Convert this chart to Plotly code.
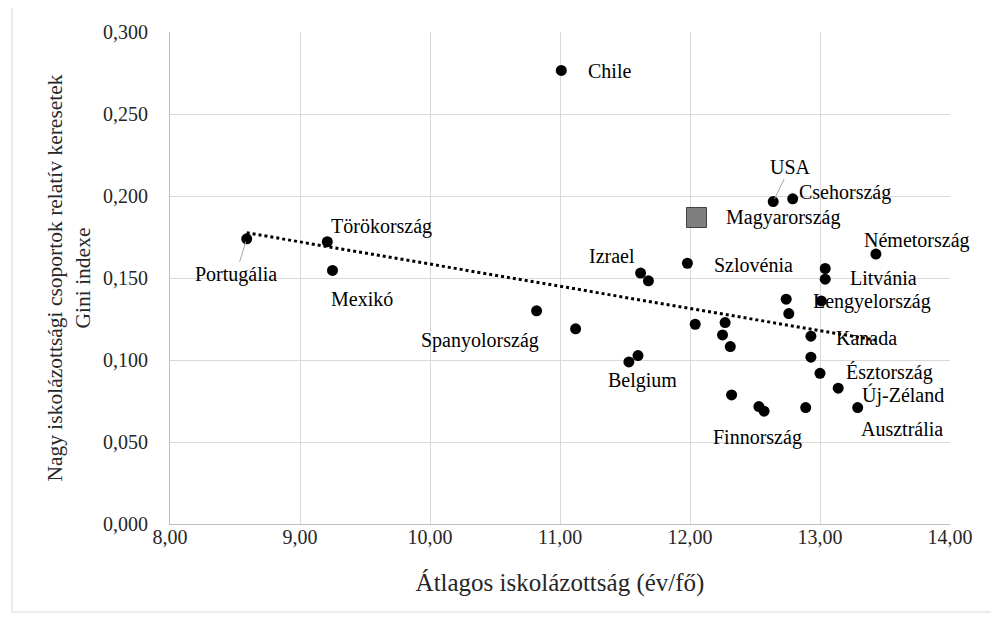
import numpy as np
import plotly.graph_objects as go

# Average schooling (years/person) and Gini index of relative earnings
SCHOOLING = [
    11.01, 8.59, 9.21, 9.25, 10.82, 11.12, 11.62, 11.68, 11.53, 11.60,
    11.98, 12.04, 12.64, 12.79, 13.43, 13.04, 13.04, 12.74, 12.76, 13.01,
    12.27, 12.25, 12.31, 12.93, 12.93, 13.00, 13.14, 13.29, 12.32, 12.53,
    12.57, 12.89,
]
GINI = [
    0.2766, 0.1739, 0.1721, 0.1546, 0.1300, 0.1190, 0.1530, 0.1483, 0.0988, 0.1027,
    0.1590, 0.1218, 0.1966, 0.1983, 0.1646, 0.1558, 0.1493, 0.1371, 0.1283, 0.1360,
    0.1228, 0.1153, 0.1082, 0.1145, 0.1017, 0.0919, 0.0828, 0.0710, 0.0787, 0.0716,
    0.0688, 0.0710,
]
LABELS = [
    "Chile", "Portugália", "Törökország", "Mexikó", "Spanyolország", "", "Izrael", "", "Belgium", "",
    "Szlovénia", "", "USA", "Csehország", "Németország", "", "Litvánia", "", "", "Lengyelország",
    "", "", "", "Kanada", "", "Észtország", "Új-Zéland", "Ausztrália", "", "",
    "Finnország", "",
]

HUNGARY_X = [12.05]
HUNGARY_Y = [0.1869]
HUNGARY_LABEL = "Magyarország"

# label offsets in pixels (dx right, dy down) from the marker
LABEL_OFFSETS = {
    "Chile": (48, 1), "Portugália": (-11, 36), "Törökország": (54, -15),
    "Mexikó": (29, 29), "Spanyolország": (-57, 30), "Izrael": (-29, -17),
    "Belgium": (14, 19), "Szlovénia": (66, 2), "USA": (17, -35),
    "Csehország": (52, -6), "Németország": (41, -14), "Litvánia": (58, -1),
    "Lengyelország": (51, 1), "Kanada": (56, 2), "Észtország": (69, -1),
    "Új-Zéland": (65, 7), "Ausztrália": (44, 21), "Finnország": (-7, 26),
}
LEADER_LABELS = {"USA", "Portugália"}

FONT = "Liberation Serif"
TEXT = "#262626"
LABEL_SIZE = 20

fig = go.Figure()

slope, intercept = np.polyfit(SCHOOLING, GINI, 1)
x_trend = [min(SCHOOLING), max(SCHOOLING)]
fig.add_trace(go.Scatter(
    x=x_trend, y=[slope * v + intercept for v in x_trend],
    mode="lines", line=dict(color="black", width=3, dash="dot"),
    showlegend=False, hoverinfo="skip",
))
fig.add_trace(go.Scatter(
    x=SCHOOLING, y=GINI, mode="markers",
    marker=dict(color="black", size=11),
    text=LABELS, showlegend=False,
))
fig.add_trace(go.Scatter(
    x=HUNGARY_X, y=HUNGARY_Y, mode="markers",
    marker=dict(color="#7f7f7f", size=20, symbol="square",
                line=dict(color="#404040", width=1)),
    showlegend=False,
))

for name, x, y in zip(LABELS, SCHOOLING, GINI):
    if not name:
        continue
    dx, dy = LABEL_OFFSETS[name]
    if name in LEADER_LABELS:
        fig.add_annotation(
            x=x, y=y, text=name, showarrow=True, ax=dx, ay=dy,
            arrowhead=0, arrowwidth=1, arrowcolor="#a6a6a6", standoff=3,
            font=dict(family=FONT, size=LABEL_SIZE, color="black"),
        )
    else:
        fig.add_annotation(
            x=x, y=y, text=name, showarrow=False, xshift=dx, yshift=-dy,
            font=dict(family=FONT, size=LABEL_SIZE, color="black"),
        )

fig.add_annotation(
    x=HUNGARY_X[0], y=HUNGARY_Y[0], text=HUNGARY_LABEL, showarrow=False,
    xshift=86, yshift=0, font=dict(family=FONT, size=LABEL_SIZE, color="black"),
)

# light frame around the chart
fig.add_shape(
    type="rect", xref="paper", yref="paper",
    x0=-0.2026, x1=1.1, y0=-0.179, y1=1.2,
    line=dict(color="#d9d9d9", width=1), fillcolor="rgba(0,0,0,0)",
)

fig.update_layout(
    width=991, height=619,
    margin=dict(l=162, r=49, t=24, b=103),
    plot_bgcolor="white", paper_bgcolor="white",
    separators=", ",
    font=dict(family=FONT, size=20, color=TEXT),
    xaxis=dict(
        range=[8, 14], dtick=1, tickformat=".2f",
        showgrid=True, gridcolor="#d9d9d9", gridwidth=1,
        showline=True, linecolor="#bfbfbf", zeroline=False,
        ticks="", ticklabelstandoff=-5,
        tickfont=dict(family=FONT, size=20, color=TEXT),
        title=dict(text="Átlagos iskolázottság (év/fő)",
                   font=dict(family=FONT, size=25, color=TEXT), standoff=26),
    ),
    yaxis=dict(
        range=[0, 0.3], dtick=0.05, tickformat=".3f",
        showgrid=True, gridcolor="#d9d9d9", gridwidth=1,
        showline=True, linecolor="#bfbfbf", zeroline=False,
        ticks="outside", ticklen=17, tickcolor="rgba(0,0,0,0)",
        tickfont=dict(family=FONT, size=20, color=TEXT),
        title=dict(text="Nagy iskolázottsági csoportok relatív keresetek<br>Gini indexe",
                   font=dict(family=FONT, size=21.5, color=TEXT), standoff=6),
    ),
)

fig.write_html("out.html")
